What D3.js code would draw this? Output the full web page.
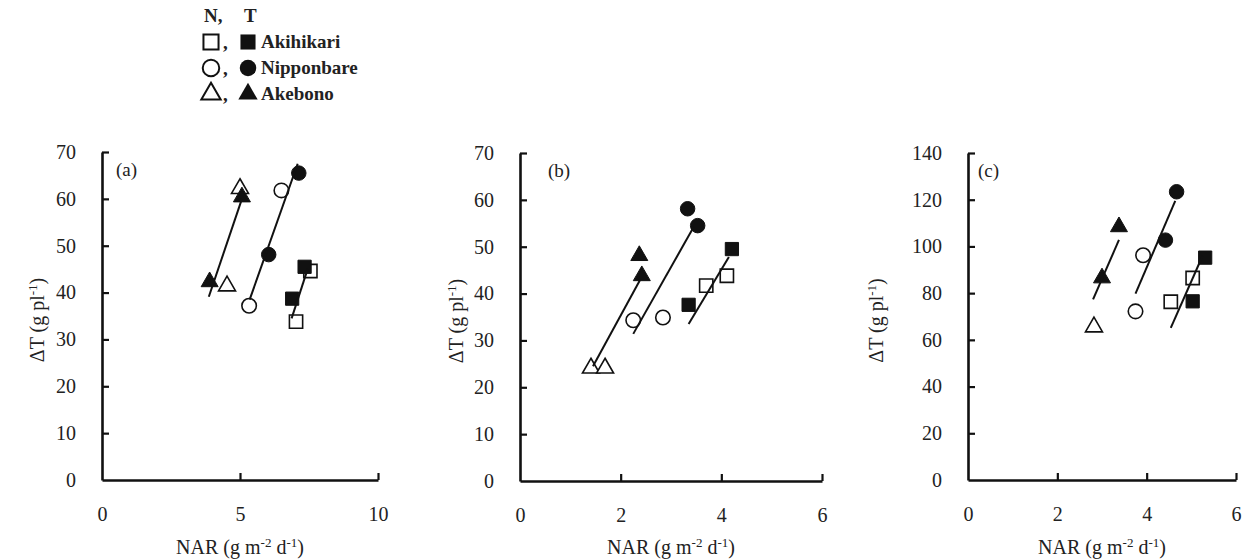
<!DOCTYPE html>
<html lang="en">
<head>
<meta charset="UTF-8">
<title>dT vs NAR</title>
<script src="https://d3js.org/d3.v7.min.js"></script>
<style>
  body { margin: 0; background: #fff; }
  svg, svg text { font-family: "Liberation Serif", "Times New Roman", Times, serif; }
  svg text { fill: #222; }
</style>
</head>
<body>
<svg id="chart" width="1245" height="560"></svg>
<script>
// cultivars, legend order
const cultivars = ["Akihikari", "Nipponbare", "Akebono"];

// panel (a): [cultivar, NAR, dT]
const panelA_N = [
  ["Akihikari", 7.03, 33.8], ["Akihikari", 7.55, 44.6],
  ["Nipponbare", 5.33, 37.2], ["Nipponbare", 6.5, 61.8],
  ["Akebono", 4.53, 41.4], ["Akebono", 5.0, 62.2]
];
const panelA_T = [
  ["Akihikari", 6.89, 38.7], ["Akihikari", 7.34, 45.5],
  ["Nipponbare", 6.04, 48.1], ["Nipponbare", 7.13, 65.5],
  ["Akebono", 3.9, 42.3], ["Akebono", 5.07, 60.4]
];
// regression lines: [cultivar, x1, y1, x2, y2]
const panelA_fit = [
  ["Akihikari", 6.87, 34.5, 7.45, 45.0],
  ["Nipponbare", 5.35, 38.5, 7.09, 67.5],
  ["Akebono", 3.87, 39.1, 5.07, 60.0]
];

// panel (b)
const panelB_N = [
  ["Akihikari", 3.70, 41.7], ["Akihikari", 4.11, 43.8],
  ["Nipponbare", 2.25, 34.3], ["Nipponbare", 2.84, 34.9],
  ["Akebono", 1.41, 24.1], ["Akebono", 1.69, 24.1]
];
const panelB_T = [
  ["Akihikari", 3.35, 37.6], ["Akihikari", 4.21, 49.5],
  ["Nipponbare", 3.33, 58.1], ["Nipponbare", 3.53, 54.5],
  ["Akebono", 2.37, 48.1], ["Akebono", 2.42, 43.8]
];
const panelB_fit = [
  ["Akihikari", 3.35, 33.5, 4.15, 47.8],
  ["Nipponbare", 2.25, 31.4, 3.45, 54.2],
  ["Akebono", 1.45, 24.5, 2.39, 43.0]
];

// panel (c)
const panelC_N = [
  ["Akihikari", 4.54, 76.3], ["Akihikari", 5.03, 86.5],
  ["Nipponbare", 3.75, 72.2], ["Nipponbare", 3.92, 96.2],
  ["Akebono", 2.82, 65.5]
];
const panelC_T = [
  ["Akihikari", 5.03, 76.5], ["Akihikari", 5.31, 95.2],
  ["Nipponbare", 4.42, 102.7], ["Nipponbare", 4.67, 123.4],
  ["Akebono", 3.0, 86.5], ["Akebono", 3.38, 108.4]
];
const panelC_fit = [
  ["Akihikari", 4.54, 65.1, 5.25, 95.9],
  ["Nipponbare", 3.75, 79.8, 4.64, 119.5],
  ["Akebono", 2.80, 77.3, 3.38, 102.8]
];

// tick values
const ticksA_x = [0, 5, 10], ticksA_y = [0, 10, 20, 30, 40, 50, 60, 70];
const ticksB_x = [0, 2, 4, 6], ticksB_y = [0, 10, 20, 30, 40, 50, 60, 70];
const ticksC_x = [0, 2, 4, 6], ticksC_y = [0, 20, 40, 60, 80, 100, 120, 140];

const FONT = "'Liberation Serif', 'Times New Roman', Times, serif";
const svg = d3.select("#chart").attr("font-family", FONT);

const symbolOf = {
  Akihikari: d3.symbolSquare,
  Nipponbare: d3.symbolCircle,
  Akebono: d3.symbolTriangle
};
const sizeOf = { Akihikari: 175, Nipponbare: 165, Akebono: 125 };

function panel(opt) {
  const x = d3.scaleLinear().domain([0, opt.xmax]).range([opt.left, opt.right]);
  const y = d3.scaleLinear().domain([0, opt.ymax]).range([opt.bottom, opt.top]);
  const g = svg.append("g");

  // axes with inside ticks
  const xa = g.append("g")
    .attr("transform", `translate(0,${opt.bottom})`)
    .call(d3.axisBottom(x).tickValues(opt.xt).tickFormat(d3.format("d"))
      .tickSizeInner(-7).tickSizeOuter(0).tickPadding(27));
  const ya = g.append("g")
    .attr("transform", `translate(${opt.left},0)`)
    .call(d3.axisLeft(y).tickValues(opt.yt).tickFormat(d3.format("d"))
      .tickSizeInner(-7).tickSizeOuter(0).tickPadding(26));
  [xa, ya].forEach(a => {
    a.attr("font-family", FONT);
    a.select(".domain").attr("stroke", "#111").attr("stroke-width", 2.6);
    a.selectAll(".tick line").attr("stroke", "#111").attr("stroke-width", 2.2);
    a.selectAll(".tick text").attr("font-size", 20).attr("fill", "#2a2a2a");
  });
  xa.selectAll(".tick").filter(d => d === 0).select("line").remove();
  ya.selectAll(".tick").filter(d => d === 0).select("line").remove();

  // panel letter
  g.append("text").attr("x", opt.left + opt.lx).attr("y", opt.top + 24)
    .attr("font-size", 19).text(opt.letter);

  // axis titles
  const xt = g.append("text").attr("x", (opt.left + opt.right) / 2).attr("y", 554)
    .attr("text-anchor", "middle").attr("font-size", 20);
  xt.append("tspan").text("NAR (g m");
  xt.append("tspan").attr("font-size", 13).attr("dy", -7).text("-2");
  xt.append("tspan").attr("dy", 7).text(" d");
  xt.append("tspan").attr("font-size", 13).attr("dy", -7).text("-1");
  xt.append("tspan").attr("dy", 7).text(")");

  const yt = g.append("text")
    .attr("transform", `translate(${opt.ytx},${(opt.top + opt.bottom) / 2 + 4}) rotate(-90)`)
    .attr("text-anchor", "middle").attr("font-size", 20);
  yt.append("tspan").text("\u0394T (g pl");
  yt.append("tspan").attr("font-size", 13).attr("dy", -7).text("-1");
  yt.append("tspan").attr("dy", 7).text(")");

  // markers: N open, T filled
  const sym = d3.symbol();
  g.selectAll(".n").data(opt.N).join("path")
    .attr("d", d => sym.type(symbolOf[d[0]]).size(sizeOf[d[0]])())
    .attr("transform", d => `translate(${x(d[1])},${y(d[2])})`)
    .attr("fill", "#fff").attr("stroke", "#111").attr("stroke-width", 1.6);
  g.selectAll(".t").data(opt.T).join("path")
    .attr("d", d => sym.type(symbolOf[d[0]]).size(sizeOf[d[0]])())
    .attr("transform", d => `translate(${x(d[1])},${y(d[2])})`)
    .attr("fill", "#111").attr("stroke", "#111").attr("stroke-width", 1);

  // fitted lines
  g.selectAll(".fit").data(opt.fit).join("line")
    .attr("x1", d => x(d[1])).attr("y1", d => y(d[2]))
    .attr("x2", d => x(d[3])).attr("y2", d => y(d[4]))
    .attr("stroke", "#111").attr("stroke-width", 2);
}

panel({ left: 102, right: 378, top: 152, bottom: 480, xmax: 10, ymax: 70,
  xt: ticksA_x, yt: ticksA_y, N: panelA_N, T: panelA_T, fit: panelA_fit,
  letter: "(a)", lx: 14, ytx: 44 });
panel({ left: 520, right: 822, top: 153, bottom: 481, xmax: 6, ymax: 70,
  xt: ticksB_x, yt: ticksB_y, N: panelB_N, T: panelB_T, fit: panelB_fit,
  letter: "(b)", lx: 28, ytx: 463 });
panel({ left: 968, right: 1236, top: 153, bottom: 480, xmax: 6, ymax: 140,
  xt: ticksC_x, yt: ticksC_y, N: panelC_N, T: panelC_T, fit: panelC_fit,
  letter: "(c)", lx: 10, ytx: 883 });

// legend
const leg = svg.append("g").attr("font-family", FONT);
leg.append("text").attr("x", 204).attr("y", 22).attr("font-size", 19)
  .attr("font-weight", "bold").text("N,");
leg.append("text").attr("x", 244).attr("y", 22).attr("font-size", 19)
  .attr("font-weight", "bold").text("T");
const legSym = d3.symbol();
cultivars.forEach((c, i) => {
  const cy = 42 + i * 26;
  leg.append("path").attr("d", legSym.type(symbolOf[c]).size(sizeOf[c] * 1.3)())
    .attr("transform", `translate(${211},${cy})`)
    .attr("fill", "#fff").attr("stroke", "#111").attr("stroke-width", 2);
  leg.append("text").attr("x", 223).attr("y", cy + 7).attr("font-size", 19)
    .attr("font-weight", "bold").text(",");
  leg.append("path").attr("d", legSym.type(symbolOf[c]).size(sizeOf[c] * 1.3)())
    .attr("transform", `translate(${248},${cy})`)
    .attr("fill", "#111");
  leg.append("text").attr("x", 261).attr("y", cy + 6).attr("font-size", 19)
    .attr("font-weight", "bold").text(c);
});
</script>
</body>
</html>
